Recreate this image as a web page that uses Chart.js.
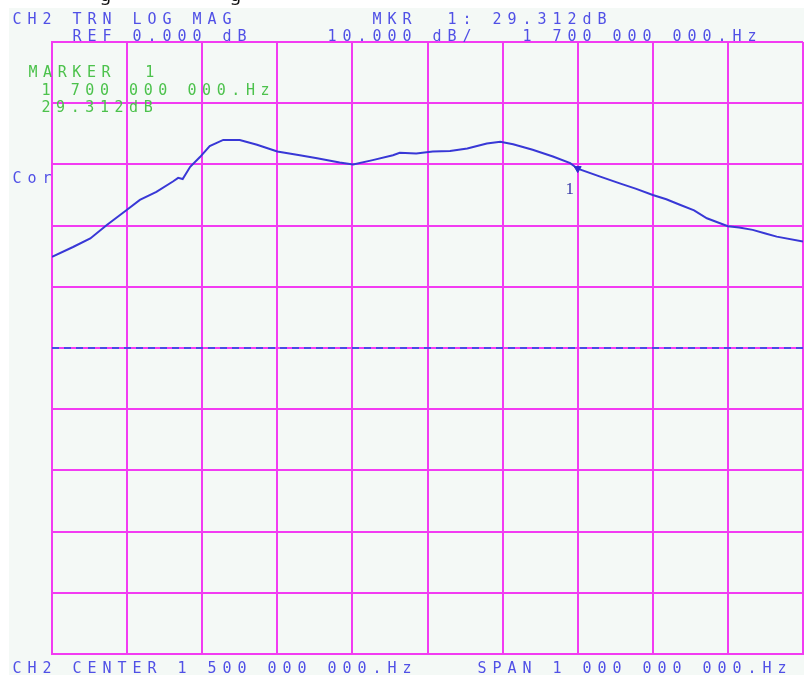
<!DOCTYPE html>
<html>
<head>
<meta charset="utf-8">
<script src="https://cdn.jsdelivr.net/npm/chart.js@4"></script>
<style>
html,body{margin:0;padding:0;background:#ffffff;overflow:hidden;}
canvas{display:block;}
</style>
</head>
<body>
<canvas id="c" width="804" height="675" style="width:804px;height:675px;"></canvas>
<script>
// Frequency axis (MHz) and trace values (dB)
const freqMHz = [1000,1028,1051,1073,1099,1117,1139,1161,1168,1174,1184,1197,1210,1228,1250,1273,1300,1330,1353,1383,1401,1427,1454,1463,1485,1507,1530,1553,1579,1597,1614,1640,1667,1690,1700,1730,1756,1778,1800,1818,1836,1855,1872,1900,1915,1933,1950,1965,2000];
const traceDb = [14.9,16.5,17.9,20.1,22.5,24.2,25.5,27.2,27.8,27.6,29.6,31.2,33.0,34.0,34.0,33.2,32.1,31.5,31.0,30.3,30.0,30.7,31.5,31.9,31.8,32.1,32.2,32.6,33.4,33.7,33.3,32.4,31.3,30.2,29.3,28.0,26.9,26.0,25.0,24.3,23.4,22.5,21.2,19.9,19.7,19.3,18.7,18.2,17.4];
const refFreq = [1000, 2000];
const refDb = [0, 0];
const markerFreq = [1700];
const markerDb = [29.312];
const markerLabels = ["1"];

const headerBlue = [
  {t:"CH2 TRN LOG MAG", col:0, y:24},
  {t:"MKR  1: 29.312dB", col:24, y:24},
  {t:"REF 0.000 dB", col:4, y:41},
  {t:"10.000 dB/", col:21, y:41},
  {t:"1 700 000 000.Hz", col:34, y:41},
  {t:"Cor", col:0, y:183},
  {t:"CH2 CENTER 1 500 000 000.Hz", col:0, y:673},
  {t:"SPAN 1 000 000 000.Hz", col:31, y:673}
];
const headerGreen = [
  {t:"MARKER  1", x:28, y:77},
  {t:"1 700 000 000.Hz", x:41, y:95},
  {t:"29.312dB", x:41, y:112}
];

const toXY = (xs, ys) => xs.map((x, i) => ({x: x, y: ys[i]}));
const GRID = '#f23cf2';

const screenPlugin = {
  id: 'screen',
  beforeDraw(chart) {
    const ctx = chart.ctx;
    ctx.save();
    ctx.fillStyle = '#ffffff';
    ctx.fillRect(0, 0, chart.width, chart.height);
    ctx.fillStyle = '#f4f9f6';
    ctx.fillRect(9, 8, chart.width - 9, chart.height - 8);
    // clipped caption text from the page above
    ctx.fillStyle = '#111111';
    ctx.font = '18px "Noto Sans"';
    ctx.textBaseline = 'alphabetic';
    ctx.fillText('g', 100, 1);
    ctx.fillText('g', 230, 1);
    ctx.restore();
  },
  afterDraw(chart) {
    const ctx = chart.ctx;
    ctx.save();
    ctx.textBaseline = 'alphabetic';
    ctx.textAlign = 'center';
    ctx.font = '15px "DejaVu Sans Mono"';
    ctx.fillStyle = '#5050e6';
    headerBlue.forEach(h => {
      for (let i = 0; i < h.t.length; i++) {
        ctx.fillText(h.t[i], 12 + (h.col + i) * 15 + 5, h.y);
      }
    });
    ctx.fillStyle = '#4cc24c';
    headerGreen.forEach(h => {
      for (let i = 0; i < h.t.length; i++) {
        ctx.fillText(h.t[i], h.x + i * 14.6 + 5, h.y);
      }
    });
    // marker label
    const xs = chart.scales.x, ys = chart.scales.y;
    ctx.font = '17px "Liberation Serif"';
    ctx.fillStyle = '#3a3aa8';
    markerFreq.forEach((f, i) => {
      const px = xs.getPixelForValue(f), py = ys.getPixelForValue(markerDb[i]);
      ctx.fillText(markerLabels[i], px - 8, py + 25);
    });
    ctx.restore();
  }
};

new Chart(document.getElementById('c'), {
  type: 'scatter',
  data: {
    datasets: [
      {
        data: toXY(refFreq, refDb),
        showLine: true,
        borderColor: '#4a4ae6',
        borderWidth: 2,
        borderDash: [7, 5],
        pointRadius: 0,
        order: 3
      },
      {
        data: toXY(freqMHz, traceDb),
        showLine: true,
        borderColor: '#3838d6',
        borderWidth: 2,
        pointRadius: 0,
        tension: 0,
        order: 2
      },
      {
        data: toXY(markerFreq, markerDb),
        showLine: false,
        pointStyle: 'triangle',
        rotation: 180,
        pointRadius: 4,
        backgroundColor: '#2c2cd0',
        borderColor: '#2c2cd0',
        order: 1
      }
    ]
  },
  options: {
    responsive: false,
    maintainAspectRatio: false,
    animation: false,
    devicePixelRatio: 1,
    events: [],
    layout: {autoPadding: false, padding: {left: 52, top: 42, right: 1, bottom: 21}},
    plugins: {legend: {display: false}, tooltip: {enabled: false}},
    scales: {
      x: {
        type: 'linear', min: 1000, max: 2000,
        ticks: {display: false, stepSize: 100},
        grid: {color: GRID, lineWidth: 2, drawTicks: false},
        border: {display: true, color: GRID, width: 2}
      },
      y: {
        type: 'linear', min: -50, max: 50,
        ticks: {display: false, stepSize: 10},
        grid: {color: GRID, lineWidth: 2, drawTicks: false},
        border: {display: true, color: GRID, width: 2}
      }
    }
  },
  plugins: [screenPlugin]
});
</script>
</body>
</html>
